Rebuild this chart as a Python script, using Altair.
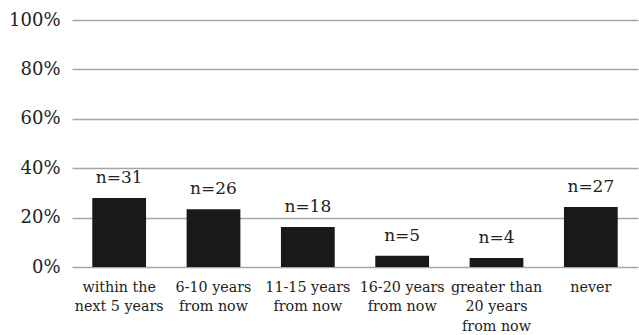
import altair as alt
import pandas as pd

# Expected timing of the event, with respondent counts per group
categories = [
    "within the\nnext 5 years",
    "6-10 years\nfrom now",
    "11-15 years\nfrom now",
    "16-20 years\nfrom now",
    "greater than\n20 years\nfrom now",
    "never",
]
counts = [31, 26, 18, 5, 4, 27]

total = sum(counts)
df = pd.DataFrame({
    "category": categories,
    "count": counts,
    "share": [c / total for c in counts],
    "label": [f"n={c}" for c in counts],
})

FONT = "DejaVu Serif"

x_enc = alt.X(
    "category:N",
    sort=categories,
    scale=alt.Scale(paddingInner=0.43, paddingOuter=0.215),
    axis=alt.Axis(
        title=None,
        labelAngle=0,
        labelExpr="split(datum.value, '\\n')",
        labelFont=FONT,
        labelFontSize=14.3,
        labelLineHeight=19.5,
        labelColor="#222222",
        labelPadding=13,
        labelBaseline="top",
        domain=False,
        ticks=False,
        grid=False,
    ),
)

y_enc = alt.Y(
    "share:Q",
    scale=alt.Scale(domain=[0, 1]),
    axis=alt.Axis(
        title=None,
        values=[0, 0.2, 0.4, 0.6, 0.8, 1.0],
        format=".0%",
        labelFont=FONT,
        labelFontSize=18,
        labelColor="#222222",
        labelPadding=12,
        domain=False,
        ticks=False,
        grid=True,
        gridColor="#a6a6a6",
        gridWidth=1.6,
    ),
)

bars = alt.Chart(df).mark_bar(color="#191919").encode(x=x_enc, y=y_enc)

labels = alt.Chart(df).mark_text(
    font=FONT, fontSize=17, color="#222222", baseline="alphabetic", dy=-15
).encode(x=alt.X("category:N", sort=categories), y="share:Q", text="label:N")

chart = (
    alt.layer(bars, labels)
    .properties(
        width=566,
        height=247,
        autosize=alt.AutoSizeParams(type="none"),
        padding={"left": 72, "top": 20, "right": 1, "bottom": 68},
        background="white",
    )
    .configure_view(stroke=None)
)

chart.save("out.html", embed_options={"renderer": "svg", "actions": False})
